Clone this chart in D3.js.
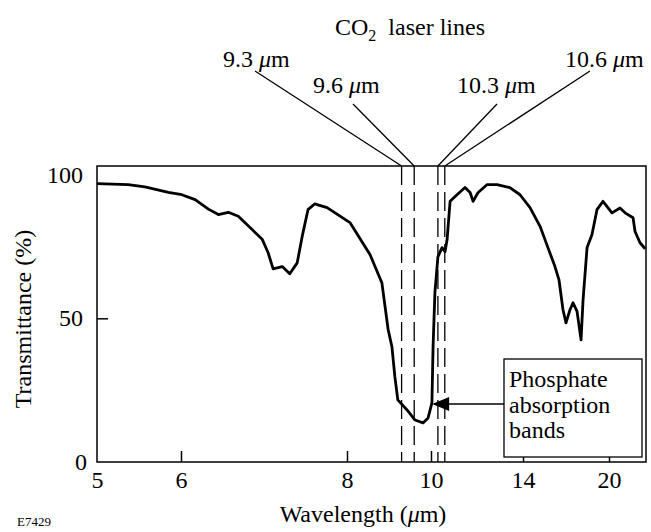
<!DOCTYPE html>
<html>
<head>
<meta charset="utf-8">
<script src="https://cdn.jsdelivr.net/npm/d3@7"></script>
<style>
  body { margin: 0; background: #fff; }
  text { font-family: "Liberation Serif", "DejaVu Serif", serif; fill: #000; }
</style>
</head>
<body>
<svg></svg>
<script>
// spectrum: wavelength (um) and transmittance (%)
var wavelength = [5.00, 5.37, 5.57, 5.85, 6.01, 6.17, 6.33, 6.45, 6.57, 6.69, 6.86, 6.98, 7.05, 7.11, 7.22, 7.31, 7.40, 7.46, 7.53, 7.61, 7.76,
  8.07, 8.55, 8.83, 8.98, 9.07, 9.14, 9.21, 9.43, 9.62, 9.81, 9.93, 10.04, 10.09, 10.17, 10.30, 10.48, 10.61, 10.70, 10.83,
  11.13, 11.48, 11.70, 11.83, 12.04, 12.43, 12.87, 13.43, 13.87, 14.49, 15.19, 15.74, 16.23, 16.51, 16.79, 17.00, 17.28, 17.49,
  17.77, 18.05, 18.19, 18.47, 18.81, 19.16, 19.58, 20.21, 20.77, 21.13, 21.69, 21.83, 22.18, 22.54]
var transmittance = [96.9, 96.5, 95.7, 93.8, 93.0, 91.3, 88.0, 86.1, 86.9, 85.5, 80.8, 77.4, 72.8, 67.2, 68.0, 65.5, 69.3, 78.5, 87.8, 89.8, 88.5,
  83.3, 72.1, 62.4, 46.0, 40.1, 29.6, 21.6, 18.1, 14.6, 13.6, 15.3, 20.6, 40.1, 58.9, 71.4, 74.6, 73.2, 77.4, 90.7,
  93.0, 95.5, 93.8, 90.7, 93.7, 96.5, 96.5, 95.5, 93.0, 88.5, 82.0, 74.6, 68.0, 63.4, 53.0, 48.4, 53.0, 55.4,
  52.4, 42.5, 56.4, 74.6, 79.1, 87.8, 90.7, 86.7, 88.4, 86.7, 85.0, 80.2, 76.3, 74.2]

var xTicks = [5, 6, 8, 10, 14, 20]
var yTicks = [0, 50, 100]
var laserLines = [9.3, 9.6, 10.3, 10.6]
var laserLabels = ['9.3', '9.6', '10.3', '10.6']

var svgWidth = 651, svgHeight = 532
var plotLeft = 97, plotRight = 646, plotTop = 166, plotBottom = 462

var svg = d3.select('svg')
    .attr('width', svgWidth)
    .attr('height', svgHeight)

// the original axis is hand drawn, so it is piecewise
var x = d3.scaleLinear()
    .domain([5, 6, 8, 10, 14, 20, 22.6])
    .range([97, 181, 347, 431, 523, 609, 646])

var y = d3.scaleLinear()
    .domain([0, 103])
    .range([plotBottom, plotTop])

// x axis, ticks point inward
var xAxis = svg.append('g')
    .attr('transform', 'translate(0,' + plotBottom + ')')
    .call(d3.axisBottom(x).tickValues(xTicks).tickSize(-11).tickPadding(9).tickFormat(d3.format('d')))
xAxis.select('.domain').remove()
xAxis.selectAll('line').attr('stroke-width', 1.5)
xAxis.selectAll('text').style('font-size', '24px').style('font-family', '"Liberation Serif", serif')
xAxis.selectAll('.tick').filter(function(d) { return d == 5 }).select('line').remove()

// y axis
var yAxis = svg.append('g')
    .attr('transform', 'translate(' + plotLeft + ',0)')
    .call(d3.axisLeft(y).tickValues(yTicks).tickSize(-11).tickPadding(14))
yAxis.select('.domain').remove()
yAxis.selectAll('line').attr('stroke-width', 1.5)
yAxis.selectAll('.tick').filter(function(d) { return d != 50 }).select('line').remove()
yAxis.selectAll('text').style('font-size', '24px').style('font-family', '"Liberation Serif", serif')
yAxis.selectAll('.tick').filter(function(d) { return d == 0 }).select('text').attr('x', -10)

// frame
svg.append('rect')
    .attr('x', plotLeft).attr('y', plotTop)
    .attr('width', plotRight - plotLeft).attr('height', plotBottom - plotTop)
    .attr('fill', 'none').attr('stroke', '#000').attr('stroke-width', 1.5)

// laser line markers
svg.selectAll('.laser')
    .data(laserLines)
    .enter()
    .append('line')
    .attr('x1', function(d) { return x(d) })
    .attr('x2', function(d) { return x(d) })
    .attr('y1', plotTop)
    .attr('y2', plotBottom)
    .attr('stroke', '#000')
    .attr('stroke-width', 1.3)
    .attr('stroke-dasharray', '19,7')

// spectrum
var points = wavelength.map(function(d, i) { return [d, transmittance[i]] })
var line = d3.line()
    .x(function(d) { return x(d[0]) })
    .y(function(d) { return y(d[1]) })
svg.append('path')
    .datum(points)
    .attr('d', line)
    .attr('fill', 'none')
    .attr('stroke', '#000')
    .attr('stroke-width', 2.8)
    .attr('stroke-linejoin', 'round')

// labels for the laser lines, with leaders
var labelPos = [[223, 67, 255, 71], [313, 93, 353, 104], [457, 93, 497, 104], [565, 67, 590, 71]]
laserLines.forEach(function(d, i) {
    var p = labelPos[i]
    svg.append('line')
        .attr('x1', p[2]).attr('y1', p[3])
        .attr('x2', x(d)).attr('y2', plotTop)
        .attr('stroke', '#000').attr('stroke-width', 1.3)
    var t = svg.append('text')
        .attr('x', p[0]).attr('y', p[1])
        .style('font-size', '24px')
    t.append('tspan').text(laserLabels[i] + ' ')
    t.append('tspan').style('font-style', 'italic').text('\u03bc')
    t.append('tspan').text('m')
})

var title = svg.append('text')
    .attr('x', 335).attr('y', 35)
    .style('font-size', '24px')
title.append('tspan').text('CO')
title.append('tspan').attr('dy', 6).style('font-size', '16px').text('2')
title.append('tspan').attr('dy', -6).text('\u00a0 laser lines')

// phosphate annotation
svg.append('rect')
    .attr('x', 504).attr('y', 359)
    .attr('width', 138).attr('height', 98)
    .attr('fill', '#fff').attr('stroke', '#000').attr('stroke-width', 1.3)
var note = ['Phosphate', 'absorption', 'bands']
svg.selectAll('.note')
    .data(note)
    .enter()
    .append('text')
    .attr('x', 509)
    .attr('y', function(d, i) { return 387 + i * 25.5 })
    .style('font-size', '24px')
    .text(function(d) { return d })

var ax = x(10.05), ay = 404
svg.append('line')
    .attr('x1', ax + 14).attr('y1', ay)
    .attr('x2', 504).attr('y2', ay)
    .attr('stroke', '#000').attr('stroke-width', 1.3)
svg.append('path')
    .attr('d', 'M' + ax + ',' + ay + 'L' + (ax + 17) + ',' + (ay - 7) + 'L' + (ax + 17) + ',' + (ay + 7) + 'Z')
    .attr('fill', '#000')

// axis titles
var xt = svg.append('text')
    .attr('x', 363).attr('y', 522)
    .attr('text-anchor', 'middle')
    .style('font-size', '24px')
xt.append('tspan').text('Wavelength (')
xt.append('tspan').style('font-style', 'italic').text('\u03bc')
xt.append('tspan').text('m)')

svg.append('text')
    .attr('transform', 'translate(31,319) rotate(-90)')
    .attr('text-anchor', 'middle')
    .style('font-size', '24px')
    .text('Transmittance (%)')

svg.append('text')
    .attr('x', 17).attr('y', 526)
    .style('font-size', '13px')
    .text('E7429')
</script>
</body>
</html>
